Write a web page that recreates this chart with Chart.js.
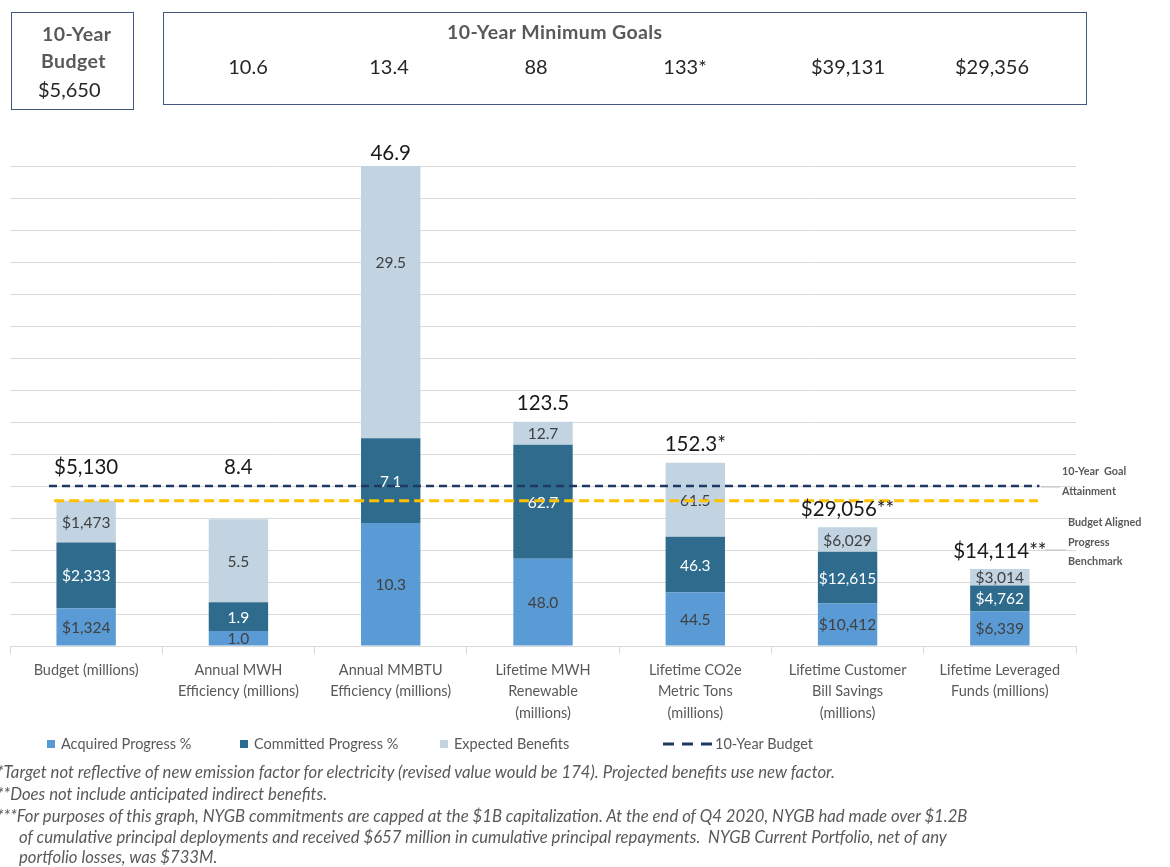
<!DOCTYPE html>
<html>
<head>
<meta charset="utf-8">
<script src="https://cdn.jsdelivr.net/npm/chart.js@4.4.1/dist/chart.umd.min.js"></script>
<style>
  body { margin: 0; background: #fff; font-family: Lato, sans-serif; }
  #wrap { position: relative; width: 1170px; height: 867px; overflow: hidden; }
  #chart { position: absolute; left: 0; top: 0; }
  .box { position: absolute; border: 1.5px solid #41577F; box-sizing: border-box; }
  .t { position: absolute; white-space: nowrap; color: #262626; }
  .hd { font-weight: bold; color: #595959; font-size: 19.5px; letter-spacing: 0.4px; }
  .goal { font-size: 20px; transform: translate(-50%, -50%); }
  .side { position: absolute; font-size: 10.8px; font-weight: bold; color: #595959; line-height: 19.5px; }
  .leg { position: absolute; top: 735px; font-size: 14.5px; color: #595959; display: flex; align-items: center; white-space: nowrap; }
  .sw { width: 8px; height: 8px; margin-right: 6px; }
  .note { position: absolute; left: -3px; font-size: 16.7px; font-style: italic; color: #595959; white-space: nowrap; }
</style>
</head>
<body>
<div id="wrap">
  <canvas id="chart" width="1170" height="867"></canvas>

  <div class="box" style="left:11px; top:12px; width:123px; height:98px;"></div>
  <div class="t hd" style="left:42px; top:22px;">10-Year</div>
  <div class="t hd" style="left:41px; top:49px;">Budget</div>
  <div class="t" id="budgetGoal" style="left:38px; top:77px; font-size:20px;"></div>

  <div class="box" style="left:163px; top:12px; width:924px; height:93px;"></div>
  <div class="t hd" style="left:447px; top:20px;">10-Year Minimum Goals</div>
  <div id="goalRow"></div>

  <div class="side" style="left:1062px; top:461px;">10-Year&nbsp; Goal<br>Attainment</div>
  <div class="side" style="left:1068px; top:512px;">Budget Aligned<br>Progress<br>Benchmark</div>

  <div id="legend"></div>

  <div class="note" style="top:762px;">*Target not reflective of new emission factor for electricity (revised value would be 174). Projected benefits use new factor.</div>
  <div class="note" style="top:784px;">**Does not include anticipated indirect benefits.</div>
  <div class="note" style="top:806px;">***For purposes of this graph, NYGB commitments are capped at the $1B capitalization. At the end of Q4 2020, NYGB had made over $1.2B</div>
  <div class="note" style="top:827px; left:19px;">of cumulative principal deployments and received $657 million in cumulative principal repayments.&nbsp; NYGB Current Portfolio, net of any</div>
  <div class="note" style="top:847px; left:19px;">portfolio losses, was $733M.</div>
</div>

<script>
const categories = [
  'Budget (millions)',
  ['Annual MWH', 'Efficiency (millions)'],
  ['Annual MMBTU', 'Efficiency (millions)'],
  ['Lifetime MWH', 'Renewable', '(millions)'],
  ['Lifetime CO2e', 'Metric Tons', '(millions)'],
  ['Lifetime Customer', 'Bill Savings', '(millions)'],
  ['Lifetime Leveraged', 'Funds (millions)']
];
const dollarUnits = [true, false, false, false, false, true, true];

// 10-year goals per category (first one is the budget)
const goals = [5650, 10.6, 13.4, 88, 133, 39131, 29356];
const goalMarks = ['', '', '', '', '*', '', ''];

const acquired = [1324, 1.0, 10.3, 48.0, 44.5, 10412, 6339];
const committed = [2333, 1.9, 7.1, 62.7, 46.3, 12615, 4762];
const expected = [1473, 5.5, 29.5, 12.7, 61.5, 6029, 3014];

const totals = [5130, 8.4, 46.9, 123.5, 152.3, 29056, 14114];
const totalMarks = ['', '', '', '', '*', '**', '**'];

const goalLine = 100;                              // 10-Year Goal Attainment
const benchmarkLine = totals[0] / goals[0] * 100;  // budget spent vs budget
const yMax = 300;
const yStep = 20;

const colors = {
  acquired: '#5B9BD5',
  committed: '#2E6B8C',
  expected: '#C2D4E2',
  navy: '#203864',
  gold: '#FFC000',
  grid: '#D9D9D9',
  text: '#595959'
};

function fmt(v, i) {
  return dollarUnits[i] ? '$' + v.toLocaleString('en-US') : v.toFixed(1);
}
function pct(arr) {
  return arr.map((v, i) => v / goals[i] * 100);
}

// goal row in the header boxes
document.getElementById('budgetGoal').textContent = '$' + goals[0].toLocaleString('en-US');
const goalX = [248, 389, 536, 685, 848, 992];
goalX.forEach((x, k) => {
  const i = k + 1;
  const d = document.createElement('div');
  d.className = 't goal';
  d.style.left = x + 'px';
  d.style.top = '66px';
  d.textContent = (dollarUnits[i] ? '$' + goals[i].toLocaleString('en-US') : String(goals[i])) + goalMarks[i];
  document.getElementById('goalRow').appendChild(d);
});

const segLabelColor = ['#404040', '#FFFFFF', '#404040'];

const barLabels = {
  id: 'barLabels',
  afterDatasetDraw(chart, args) {
    if (args.meta.type !== 'bar') return;
    const ds = chart.data.datasets[args.index];
    const ctx = chart.ctx;
    ctx.save();
    ctx.font = '15.5px Lato';
    ctx.textAlign = 'center';
    ctx.textBaseline = 'middle';
    ctx.fillStyle = segLabelColor[args.index];
    args.meta.data.forEach((el, i) => {
      ctx.fillText(fmt(ds.values[i], i), el.x, (el.y + el.base) / 2 + 1);
    });
    ctx.restore();
  },
  afterDraw(chart) {
    const ctx = chart.ctx;
    const area = chart.chartArea;
    const y = chart.scales.y;
    const navyY = y.getPixelForValue(goalLine);
    const goldY = y.getPixelForValue(benchmarkLine);
    const top = chart.getDatasetMeta(2).data;
    ctx.save();
    ctx.font = '20.5px Lato';
    ctx.fillStyle = '#1A1A1A';
    ctx.textAlign = 'center';
    ctx.textBaseline = 'middle';
    top.forEach((el, i) => {
      let ty = el.y < area.top ? area.top - 13 : el.y - 18;
      if (ty > navyY - 12 && ty < goldY + 5) ty = navyY - 19;
      const v = dollarUnits[i] ? '$' + totals[i].toLocaleString('en-US') : totals[i].toFixed(1);
      ctx.fillText(v + totalMarks[i], el.x, ty);
    });
    // leader lines to the side notes
    ctx.strokeStyle = '#BFBFBF';
    ctx.lineWidth = 1;
    ctx.beginPath();
    ctx.moveTo(1041, navyY + 1); ctx.lineTo(1060, navyY + 1);
    ctx.moveTo(1045, y.getPixelForValue(60)); ctx.lineTo(1066, y.getPixelForValue(60));
    ctx.stroke();
    ctx.restore();
  }
};

const chart = new Chart(document.getElementById('chart'), {
  type: 'bar',
  data: {
    labels: categories,
    datasets: [{
      label: 'Acquired Progress %',
      data: pct(acquired),
      values: acquired,
      backgroundColor: colors.acquired,
      stack: 'progress',
      order: 1
    }, {
      label: 'Committed Progress %',
      data: pct(committed),
      values: committed,
      backgroundColor: colors.committed,
      stack: 'progress',
      order: 1
    }, {
      label: 'Expected Benefits',
      data: pct(expected),
      values: expected,
      backgroundColor: colors.expected,
      stack: 'progress',
      order: 1
    }, {
      type: 'line',
      label: '10-Year Budget',
      xAxisID: 'xl',
      stack: 'goal',
      data: [{ x: 0.256, y: goalLine }, { x: 6.76, y: goalLine }],
      borderColor: colors.navy,
      borderWidth: 2.5,
      borderDash: [8, 5],
      pointRadius: 0,
      order: 0
    }, {
      type: 'line',
      label: 'Benchmark',
      xAxisID: 'xl',
      stack: 'bench',
      data: [{ x: 0.29, y: benchmarkLine }, { x: 6.75, y: benchmarkLine }],
      borderColor: colors.gold,
      borderWidth: 3,
      borderDash: [10, 5],
      pointRadius: 0,
      order: 0
    }]
  },
  options: {
    responsive: false,
    animation: false,
    layout: { padding: { top: 166, left: 10, right: 94, bottom: 0 } },
    plugins: { legend: { display: false }, tooltip: { enabled: false } },
    datasets: { bar: { grouped: false, barPercentage: 0.78, categoryPercentage: 0.5 } },
    scales: {
      x: {
        stacked: true,
        grid: { offset: true, drawOnChartArea: false, color: colors.grid, tickLength: 8 },
        border: { color: colors.grid },
        ticks: {
          color: colors.text,
          font: { family: 'Lato', size: 14.5, lineHeight: 1.5 },
          maxRotation: 0,
          autoSkip: false,
          padding: 5
        },
        afterFit(scale) { scale.height = 867 - 646; }
      },
      xl: { type: 'linear', display: false, offset: false, min: 0, max: 7 },
      y: {
        stacked: true,
        min: 0,
        max: yMax,
        ticks: { display: false, stepSize: yStep },
        grid: { color: colors.grid, drawTicks: false },
        border: { display: false },
        afterFit(scale) { scale.width = 0; }
      }
    }
  },
  plugins: [barLabels]
});

// legend from the datasets
const legendX = [47, 240, 440, 663];
const legendEl = document.getElementById('legend');
chart.data.datasets.slice(0, 4).forEach((ds, k) => {
  const item = document.createElement('div');
  item.className = 'leg';
  item.style.left = legendX[k] + 'px';
  if (ds.type === 'line') {
    item.innerHTML = '<svg width="50" height="6" style="margin-right:2px"><line x1="0" y1="3" x2="50" y2="3" stroke="' +
      ds.borderColor + '" stroke-width="3" stroke-dasharray="11,8"/></svg>';
  } else {
    item.innerHTML = '<span class="sw" style="background:' + ds.backgroundColor + '"></span>';
  }
  item.appendChild(document.createTextNode(ds.label));
  legendEl.appendChild(item);
});
</script>
</body>
</html>
